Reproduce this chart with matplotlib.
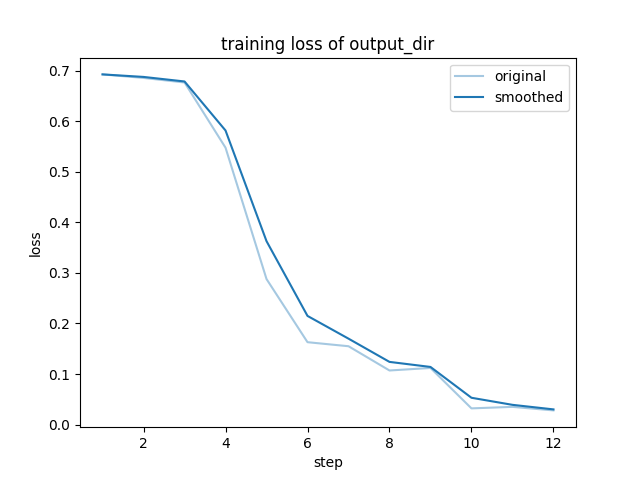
import matplotlib
matplotlib.use("Agg")
import matplotlib.pyplot as plt

steps = [1, 2, 3, 4, 5, 6, 7, 8, 9, 10, 11, 12]
original = [0.693, 0.686, 0.677, 0.548, 0.288, 0.163, 0.155, 0.107, 0.112, 0.032, 0.035, 0.028]
smoothed = [0.693, 0.688, 0.679, 0.582, 0.363, 0.215, 0.170, 0.124, 0.114, 0.053, 0.039, 0.030]

plt.figure(figsize=(6.4, 4.8), dpi=100)
plt.plot(steps, original, color="#1f77b4", alpha=0.4, label="original")
plt.plot(steps, smoothed, color="#1f77b4", label="smoothed")
plt.title("training loss of output_dir")
plt.xlabel("step")
plt.ylabel("loss")
plt.legend()
plt.savefig("out.png")
